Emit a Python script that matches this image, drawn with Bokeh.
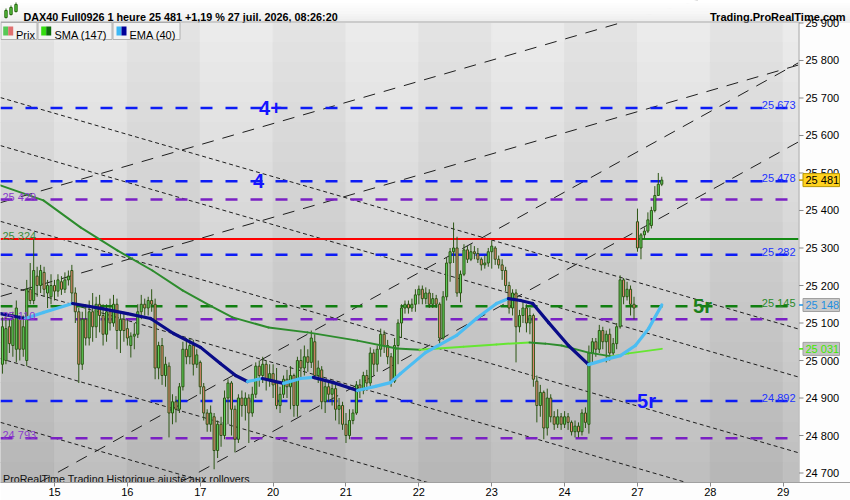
import numpy as np
from bokeh.plotting import figure
from bokeh.models import FixedTicker, Range1d
from bokeh.core.properties import value
from bokeh.embed import file_html
from bokeh.resources import INLINE

# DAX40 Full0926, 1 heure
day_labels = ["15", "16", "17", "20", "21", "22", "23", "24", "27", "28", "29"]
bars_per_day = 21
first_bar = -15  # last bars of 14 juil.

opens = [
    # 14
    24990, 25000, 25090, 25040, 25030, 25110, 25030, 25000, 25190, 25160, 25225, 25200, 25235, 25180, 25170,
    # 15
    25200, 25185, 25210, 25190, 25215, 25240, 25180, 25130, 24990, 25110, 25060, 25130, 25090, 25150, 25120, 25070, 25130, 25100, 25150, 25080, 25110,
    # 16
    25085, 25040, 25065, 25070, 25130, 25150, 25140, 25160, 25150, 24980, 25040, 24960, 24985, 24860, 24890, 24870, 24930, 25030, 25010, 25040, 24990,
    # 17
    24995, 24930, 24860, 24830, 24850, 24760, 24830, 24800, 24900, 24940, 24870, 24790, 24900, 24880, 24900, 24860, 24910, 24985, 24960, 24990, 24950,
    # 20
    24965, 24940, 24880, 24910, 24950, 24930, 24960, 24880, 25000, 24980, 25010, 24995, 25050, 24960, 24975, 24890, 24930, 24910, 24925, 24870, 24880,
    # 21
    24830, 24800, 24840, 24860, 24935, 24920, 24960, 24940, 25020, 24990, 25030, 25070, 25040, 25010, 24945, 25040, 25100, 25140, 25150, 25140, 25150,
    # 22
    25175, 25190, 25165, 25180, 25150, 25165, 25150, 25060, 25170, 25260, 25290, 25300, 25180, 25230, 25295, 25270, 25290, 25285, 25270, 25255, 25260,
    # 23
    25290, 25300, 25270, 25255, 25240, 25200, 25140, 25180, 25090, 25120, 25140, 25100, 25120, 24945, 24880, 24915, 24820, 24900, 24850, 24830, 24850,
    # 24
    24830, 24850, 24835, 24810, 24825, 24810, 24860, 24830, 25020, 25050, 25030, 25080, 25050, 25070, 25020, 25045, 25090, 25215, 25170, 25190, 25150,
    # 27
    25370, 25300, 25335, 25345, 25360, 25400, 25440, 25470,
]
highs = [
    25115, 25120, 25110, 25130, 25160, 25120, 25120, 25215, 25260, 25324, 25250, 25255, 25250, 25215, 25230,
    25215, 25230, 25225, 25235, 25240, 25255, 25195, 25140, 25130, 25150, 25160, 25180, 25170, 25175, 25150, 25150, 25165, 25175, 25165, 25130, 25130,
    25110, 25075, 25100, 25150, 25175, 25165, 25170, 25190, 25165, 25050, 25060, 25010, 24995, 24910, 24905, 24940, 25050, 25060, 25060, 25055, 25030,
    25000, 24940, 24870, 24880, 24860, 24840, 24850, 24920, 24950, 24945, 24880, 24910, 24920, 24915, 24910, 24930, 24995, 25000, 25010, 25000, 24990,
    24990, 24980, 24930, 24960, 24975, 24985, 24965, 25010, 25030, 25040, 25030, 25080, 25070, 25000, 24985, 24950, 24945, 24945, 24935, 24900, 24890,
    24860, 24870, 24870, 24945, 24950, 24970, 24975, 25035, 25030, 25040, 25085, 25080, 25055, 25020, 25060, 25110, 25150, 25160, 25160, 25165, 25190,
    25200, 25200, 25195, 25190, 25180, 25175, 25155, 25185, 25275, 25300, 25368, 25330, 25240, 25310, 25305, 25310, 25305, 25300, 25275, 25280, 25300,
    25320, 25305, 25280, 25270, 25250, 25210, 25190, 25190, 25135, 25160, 25150, 25140, 25125, 24960, 24935, 24920, 24925, 24910, 24865, 24870, 24860,
    24865, 24860, 24840, 24840, 24835, 24870, 24875, 25040, 25060, 25060, 25095, 25090, 25080, 25085, 25060, 25100, 25227, 25220, 25210, 25200, 25170,
    25405, 25340, 25355, 25395, 25410, 25465, 25500, 25490,
]
lows = [
    24965, 24990, 25020, 25010, 24995, 25000, 25010, 24985, 25150, 25150, 25170, 25180, 25170, 25140, 25150,
    25160, 25170, 25175, 25180, 25200, 25150, 25100, 24940, 24975, 25040, 25040, 25050, 25060, 25075, 25040, 25050, 25080, 25090, 25030, 25020, 25050,
    25040, 25008, 25030, 25060, 25110, 25120, 25120, 25130, 24950, 24950, 24935, 24930, 24795, 24830, 24835, 24860, 24920, 24990, 24990, 24960, 24980,
    24910, 24840, 24810, 24810, 24710, 24740, 24770, 24790, 24830, 24800, 24755, 24780, 24850, 24840, 24780, 24850, 24900, 24930, 24940, 24920, 24930,
    24900, 24870, 24860, 24900, 24900, 24870, 24850, 24850, 24950, 24960, 24970, 24980, 24950, 24940, 24870, 24860, 24890, 24880, 24840, 24830, 24815,
    24780, 24790, 24830, 24855, 24900, 24910, 24920, 24930, 24960, 24970, 25010, 25020, 24990, 24930, 24940, 24990, 25060, 25125, 25125, 25130, 25130,
    25150, 25150, 25150, 25140, 25140, 25140, 25045, 25055, 25160, 25210, 25260, 25170, 25155, 25225, 25260, 25265, 25270, 25260, 25240, 25245, 25250,
    25245, 25255, 25245, 25215, 25185, 25125, 25120, 24995, 25075, 25100, 25075, 25070, 24930, 24835, 24850, 24790, 24800, 24835, 24815, 24820, 24815,
    24820, 24815, 24800, 24795, 24795, 24800, 24820, 24805, 24990, 25010, 25020, 25030, 24995, 25000, 25010, 25030, 25085, 25150, 25160, 25120, 25110,
    25290, 25270, 25325, 25340, 25352, 25395, 25440, 25465,
]
closes = [
    25090, 25085, 25045, 25110, 25140, 25030, 25090, 25190, 25160, 25240, 25200, 25240, 25190, 25200, 25200,
    25185, 25215, 25190, 25215, 25225, 25180, 25130, 24990, 25110, 25060, 25130, 25090, 25150, 25120, 25070, 25130, 25100, 25150, 25080, 25110, 25080,
    25060, 25065, 25070, 25130, 25150, 25140, 25160, 25150, 24980, 25040, 24960, 24990, 24860, 24890, 24870, 24930, 25030, 25010, 25040, 24990, 25015,
    24930, 24860, 24830, 24860, 24760, 24830, 24800, 24900, 24940, 24870, 24790, 24900, 24880, 24900, 24860, 24910, 24985, 24960, 24990, 24950, 24965,
    24935, 24880, 24910, 24950, 24930, 24960, 24880, 25000, 24980, 25010, 24995, 25060, 24960, 24980, 24890, 24930, 24910, 24925, 24870, 24880, 24830,
    24800, 24840, 24860, 24935, 24920, 24960, 24940, 25020, 24990, 25030, 25070, 25040, 25010, 24945, 25040, 25100, 25140, 25150, 25140, 25150, 25175,
    25190, 25165, 25180, 25150, 25165, 25150, 25060, 25170, 25260, 25290, 25300, 25180, 25230, 25295, 25270, 25290, 25285, 25270, 25255, 25260, 25290,
    25305, 25270, 25255, 25240, 25200, 25140, 25180, 25090, 25120, 25140, 25100, 25120, 24950, 24880, 24915, 24820, 24900, 24850, 24830, 24850, 24830,
    24850, 24835, 24810, 24825, 24810, 24860, 24835, 25020, 25050, 25030, 25080, 25050, 25070, 25020, 25045, 25090, 25215, 25170, 25190, 25150, 25140,
    25300, 25335, 25345, 25375, 25400, 25440, 25470, 25481,
]

# moving averages, read at points along the curves (bar index, price)
ema_bar = [-15.6, -8.4, -3.2, 5.2, 13.3, 21.0, 27.7, 34.3, 42.1, 47.8, 52.2, 55.6, 59.9, 66.0, 70.9, 74.6,
           80.4, 87.3, 92.5, 96.8, 99.7, 106.9, 115.9, 121.6, 127.4, 130.8, 134.3, 137.8, 142.4, 148.1,
           153.9, 159.7, 163.1, 167.4, 171.2, 175]
ema_val = [25125, 25112, 25128, 25152, 25139, 25125, 25112, 25072, 25035, 24992, 24960, 24944, 24952, 24939,
           24952, 24955, 24941, 24920, 24931, 24941, 24965, 25021, 25067, 25112, 25152, 25165, 25160, 25152,
           25101, 25040, 24989, 25005, 25013, 25040, 25085, 25148]
sma_bar = [-15.6, -3.2, 7.5, 18.2, 28.2, 36.9, 44.7, 51.3, 61.7, 72.9, 87.3, 98.6, 105.2, 117.9, 127.4,
           136.9, 141.5, 146.1, 153.9, 160.5, 165.4, 175]
sma_val = [25467, 25427, 25355, 25293, 25240, 25187, 25147, 25115, 25088, 25075, 25053, 25032, 25029, 25037,
           25043, 25048, 25045, 25040, 25021, 25011, 25019, 25031]

# horizontal levels
blue_levels = [25673, 25478, 25282, 24892]
purple_levels = [25429, 25110, 24793]
green_levels = [25145]
ref_level = 25324
tag_text = ["4+", "4", "5r", "5r"]
tag_level = [25673, 25478, 25145, 24892]

price_ticks = list(range(24700, 26000, 100))
last_price = 25481
ema_last = 25148
sma_last = 25031

title_text = "DAX40 Full0926 1 heure 25 481 +1,19 % 27 juil. 2026, 08:26:20"
site_text = "Trading.ProRealTime.com"
footer_text = "ProRealTime Trading  Historique ajusté aux rollovers"

# trend lines: (bar, price) at both ends
down_x0 = -15.56
down_x1 = 214.4
down_p0 = [25701, 25573, 25371, 25205, 25005, 24835]
down_p1 = [25084, 24956, 24754, 24588, 24388, 24218]
up_x0 = [-15.56, -15.56, 36.3, -4.3]
up_p0 = [25421, 25171, 24675, 24675]
up_x1 = [214.4, 214.4, 214.4, 214.4]
up_p1 = [26038, 25788, 25583, 25794]


def fmt(v):
    return f"{v // 1000} {v % 1000:03d}"


# price area of the chart: bars -15.56..214.4, prices 24674.7..25901.3
BX0, BX1 = -15.56, 214.4
BY0, BY1 = 24674.7, 25901.3


# place decorations on the screenshot's pixel grid (price area = 798 x 460 at top 22)
def px(x):
    return BX0 + x * (BX1 - BX0) / 798


def py(y):
    return BY1 - (y - 22) * (BY1 - BY0) / 460


FONT = "Liberation Sans"
XR = px(798)
PANEL = "#fdfdfd"
head_grays = [255, 253, 251, 249, 247, 244, 241, 238]

# the frame spans the header and the price-scale column too, so that the
# header texts and the price flags can be drawn as glyphs
p = figure(width=850, height=500, x_range=Range1d(px(0), px(850)), y_range=Range1d(py(482), py(0)),
           output_backend="svg", toolbar_location=None, y_axis_location="right",
           min_border_left=0, min_border_right=0, min_border_top=0, min_border_bottom=18,
           border_fill_color=PANEL, background_fill_color=PANEL, outline_line_color=None)
p.xgrid.visible = False
p.ygrid.visible = False

# day bands with a vertical gradient
n = 23
bl, br, bt, bb, bc = [], [], [], [], []
for k in range(-1, len(day_labels)):
    left = max(k * bars_per_day, BX0)
    right = min((k + 1) * bars_per_day, XR)
    top_g, bot_g = (236, 190) if k % 2 == 0 else (228, 182)
    for j in range(n):
        g = int(round(top_g - (top_g - bot_g) * (j + 0.5) / n))
        bl.append(left)
        br.append(right)
        bt.append(BY1 - j * (BY1 - BY0) / n)
        bb.append(BY1 - (j + 1) * (BY1 - BY0) / n)
        bc.append(f"#{g:02x}{g:02x}{g:02x}")
p.quad(left=bl, right=br, top=bt, bottom=bb, fill_color=bc, line_color=bc, line_width=1)

# trend lines
p.segment(x0=[down_x0] * len(down_p0), y0=down_p0, x1=[down_x1] * len(down_p1), y1=down_p1,
          line_color="#1e1e1e", line_dash="4 3", line_width=1)
p.segment(x0=up_x0, y0=up_p0, x1=up_x1, y1=up_p1, line_color="#1e1e1e", line_dash="12 9", line_width=1)

# header strip and price-scale column (also hide trend lines running past the price area)
p.quad(left=XR, right=px(850), top=py(21), bottom=py(482), fill_color=PANEL, line_color=None)
hn = len(head_grays)
p.quad(left=px(0), right=px(850), top=[py(j * 22 / hn) for j in range(hn)],
       bottom=[py((j + 1) * 22 / hn) for j in range(hn)],
       fill_color=[f"#{g:02x}{g:02x}{g:02x}" for g in head_grays],
       line_color=[f"#{g:02x}{g:02x}{g:02x}" for g in head_grays], line_width=1)

# horizontal levels
x_end = px(795)
p.segment(x0=[BX0] * 4, y0=blue_levels, x1=[x_end] * 4, y1=blue_levels,
          line_color="#0d1cf5", line_dash="12 13", line_width=2.5)
p.segment(x0=[BX0] * 3, y0=purple_levels, x1=[x_end] * 3, y1=purple_levels,
          line_color="#7a20c4", line_dash="12 13", line_width=2.5)
p.segment(x0=[BX0], y0=green_levels, x1=[x_end], y1=green_levels,
          line_color="#117f11", line_dash="12 13", line_width=2.5)
day27 = 168.3
p.segment(x0=[BX0], y0=[ref_level], x1=[day27], y1=[ref_level], line_color="#ff0000", line_width=2)
p.segment(x0=[day27], y0=[ref_level], x1=[XR], y1=[ref_level], line_color="#138a13", line_width=2)

# candles
x = np.arange(first_bar, first_bar + len(closes))
o = np.array(opens)
h = np.array(highs)
lo = np.array(lows)
c = np.array(closes)
up = c >= o
dark = "#2c5514"
p.segment(x0=x, y0=h, x1=x, y1=lo, line_color=dark, line_width=1)
p.vbar(x=x, width=0.6, top=np.maximum(o, c), bottom=np.minimum(o, c),
       fill_color=["#5fd35a" if u else "#ee8a78" for u in up], line_color=dark, line_width=1)


# moving averages, coloured by direction
def dir_colors(vals, rise, fall):
    return [rise if b >= a else fall for a, b in zip(vals[:-1], vals[1:])]


p.segment(x0=sma_bar[:-1], y0=sma_val[:-1], x1=sma_bar[1:], y1=sma_val[1:],
          line_color=dir_colors(sma_val, "#66e632", "#2d8c2d"), line_width=2, line_cap="round")
p.segment(x0=ema_bar[:-1], y0=ema_val[:-1], x1=ema_bar[1:], y1=ema_val[1:],
          line_color=dir_colors(ema_val, "#4cbdf2", "#0a0c88"), line_width=3.2, line_cap="round")

# level values
off = 3 * (BY1 - BY0) / 460
p.text(x=[x_end] * 4, y=[v + off for v in blue_levels], text=[fmt(v) for v in blue_levels],
       text_align="right", text_baseline="alphabetic", text_color="#2233ff",
       text_font=value(FONT), text_font_size="11px")
p.text(x=[x_end], y=[v + off for v in green_levels], text=[fmt(v) for v in green_levels],
       text_align="right", text_baseline="alphabetic", text_color="#2a8a2a",
       text_font=value(FONT), text_font_size="11px")
p.text(x=[px(2)] * 3, y=[v + off for v in purple_levels], text=[fmt(v) for v in purple_levels],
       text_align="left", text_baseline="alphabetic", text_color="#8a3ccc",
       text_font=value(FONT), text_font_size="11px")
p.text(x=[px(2)], y=[ref_level + off], text=[fmt(ref_level)],
       text_align="left", text_baseline="alphabetic", text_color="#3c8d3c",
       text_font=value(FONT), text_font_size="11px")

# zone tags
p.text(x=[px(270), px(258), px(702), px(646)], y=tag_level, text=tag_text,
       text_color=["#1515ff", "#1515ff", "#1a7f1a", "#1515ff"],
       text_align="center", text_baseline="middle", text_font=value(FONT),
       text_font_size="20px", text_font_style="bold")

# legend boxes
boxes = [(0.5, 36.5), (37.5, 111.5), (112.5, 179.5)]
p.quad(left=[px(a) for a, b in boxes], right=[px(b) for a, b in boxes],
       top=py(22), bottom=py(39), fill_color="#f3f3f3", line_color="#b0b0b0")
sq = [(2.7, "#57c957", "#e07070"), (40.7, "#33dd11", "#0d6d0d"), (116, "#3db8f5", "#000099")]
p.quad(left=[px(s) for s, a, b in sq] + [px(s + 5) for s, a, b in sq],
       right=[px(s + 5) for s, a, b in sq] + [px(s + 10) for s, a, b in sq],
       top=py(26), bottom=py(35),
       fill_color=[a for s, a, b in sq] + [b for s, a, b in sq], line_color=None)
p.text(x=[px(15.5), px(54), px(129)], y=py(34.5), text=["Prix", "SMA (147)", "EMA (40)"],
       text_align="left", text_baseline="alphabetic", text_color="#000000",
       text_font=value(FONT), text_font_size="11px")

p.text(x=[px(2.5)], y=[py(478)], text=[footer_text],
       text_align="left", text_baseline="alphabetic", text_color="#111111",
       text_font=value(FONT), text_font_size="10.7px")

# header: icon and texts
p.segment(x0=[px(5.5), px(10.5), px(15.5)], y0=[py(18), py(15), py(12)],
          x1=[px(5.5), px(10.5), px(15.5)], y1=[py(8), py(5), py(2)], line_color="#2c6a14", line_width=1)
p.quad(left=[px(4.3), px(9.3), px(14.3)], right=[px(6.7), px(11.7), px(16.7)],
       top=[py(10), py(7), py(4)], bottom=[py(17), py(14), py(11)],
       fill_color="#55c43c", line_color="#2c6a14", line_width=1)
p.text(x=[px(23)], y=[py(16)], text=[title_text], text_align="left", text_baseline="alphabetic",
       text_font=value(FONT), text_font_size="10.8px", text_font_style="bold", text_color="#000000")
p.text(x=[px(845)], y=[py(16)], text=[site_text], text_align="right", text_baseline="alphabetic",
       text_font=value(FONT), text_font_size="11px", text_font_style="bold", text_color="#000000")

# frame edges of the price area and price ticks
p.segment(x0=[px(0)], y0=[py(21.5)], x1=[XR], y1=[py(21.5)], line_color="#a8a8a8", line_width=1)
p.segment(x0=[px(798.5)], y0=[py(21.5)], x1=[px(798.5)], y1=[py(482)], line_color="#a0a0a0", line_width=1)
p.segment(x0=[px(798.5)] * len(price_ticks), y0=price_ticks, x1=[px(803)] * len(price_ticks),
          y1=price_ticks, line_color="#8a8a8a", line_width=1)

# price flags on the scale, drawn above the scale labels
half = 6.5 * (BY1 - BY0) / 460
flags = [(last_price, "#000000", "#ffd21f", "#b89600"),
         (ema_last, "#1f8fe0", "#c9c9c9", "#a0a0a0"),
         (sma_last, "#3fe800", "#c4c4c4", "#a0a0a0")]
p.quad(left=px(802.5), right=px(839), top=[v + half for v, a, b, d in flags],
       bottom=[v - half for v, a, b, d in flags], fill_color=[b for v, a, b, d in flags],
       line_color=[d for v, a, b, d in flags], line_width=1, level="overlay")
p.segment(x0=px(798.5), y0=[v for v, a, b, d in flags], x1=px(802.5), y1=[v for v, a, b, d in flags],
          line_color=[d if a == "#000000" else a for v, a, b, d in flags], line_width=1.5, level="overlay")
p.text(x=px(805), y=[v for v, a, b, d in flags], text=[fmt(v) for v, a, b, d in flags],
       text_color=[a for v, a, b, d in flags], text_align="left", text_baseline="middle",
       text_font=value(FONT), text_font_size="11px", level="overlay")

# axes: the price labels are pulled back into the scale column
yax = p.yaxis[0]
yax.ticker = FixedTicker(ticks=price_ticks)
yax.major_label_overrides = {t: fmt(t) for t in price_ticks}
yax.axis_line_color = None
yax.major_tick_line_color = None
yax.major_tick_out = 0
yax.major_tick_in = 0
yax.major_label_standoff = -45
xax = p.xaxis[0]
xax.ticker = FixedTicker(ticks=[k * bars_per_day for k in range(len(day_labels))])
xax.major_label_overrides = {k * bars_per_day: d for k, d in enumerate(day_labels)}
xax.axis_line_color = "#a0a0a0"
xax.major_tick_line_color = "#8c8c8c"
xax.major_tick_out = 4
xax.major_tick_in = 0
xax.major_label_standoff = 1
for ax in (xax, yax):
    ax.major_label_text_font = FONT
    ax.major_label_text_font_size = "11px"
    ax.major_label_text_color = "#000000"
    ax.minor_tick_line_color = None

open("out.html", "w").write(file_html(p, INLINE))
